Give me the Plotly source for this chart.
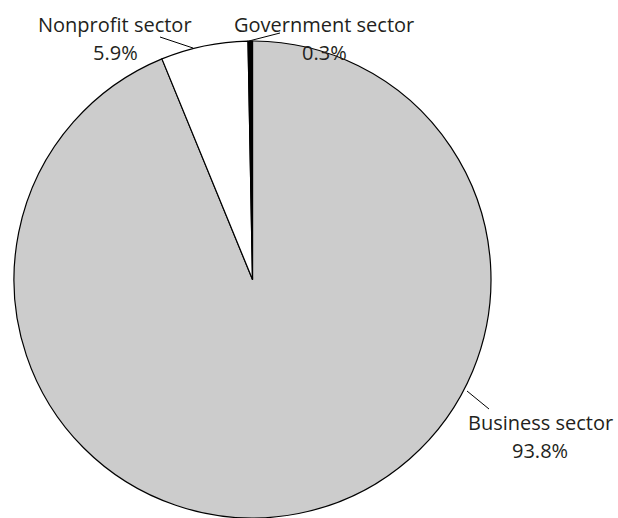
import plotly.graph_objects as go

# Share of R&D by performing sector
sectors = ["Business sector", "Nonprofit sector", "Government sector"]
shares = [93.8, 5.9, 0.3]
colors = ["#cccccc", "#ffffff", "#000000"]

W, H = 618, 518

def px_x(x):
    return x / W

def px_y(y):
    return 1 - y / H

fig = go.Figure(
    go.Pie(
        labels=sectors,
        values=shares,
        sort=False,
        direction="clockwise",
        rotation=0,
        textinfo="none",
        hoverinfo="label+percent",
        marker=dict(colors=colors, line=dict(color="#000000", width=1.2)),
        domain=dict(x=[px_x(14), px_x(491)], y=[0, px_y(41)]),
        showlegend=False,
    )
)

# label placement: pixel centre x, and vertical centres of the name / value lines
label_pos = {
    "Nonprofit sector": (115, 24, 52),
    "Government sector": (324, 24, 52),
    "Business sector": (540, 422, 450),
}
leaders = {
    "Nonprofit sector": ((160, 37), (193, 48)),
    "Government sector": ((249, 41), (280, 33)),
    "Business sector": ((467, 391), (489, 409)),
}

font = dict(family="'Open Sans', sans-serif", size=20, color="#231f20")

for name, val in zip(sectors, shares):
    cx, cy1, cy2 = label_pos[name]
    for txt, cy in ((name, cy1), (f"{val:.1f}%", cy2)):
        fig.add_annotation(
            x=px_x(cx), y=px_y(cy), xref="paper", yref="paper",
            xanchor="center", yanchor="middle",
            text=txt, showarrow=False, font=font,
        )
    (x0, y0), (x1, y1) = leaders[name]
    fig.add_shape(
        type="line", xref="paper", yref="paper",
        x0=px_x(x0), y0=px_y(y0), x1=px_x(x1), y1=px_y(y1),
        line=dict(color="#000000", width=1),
    )

fig.update_layout(
    width=W, height=H,
    margin=dict(l=0, r=0, t=0, b=0),
    paper_bgcolor="#ffffff",
    plot_bgcolor="#ffffff",
)

fig.write_html("out.html")
